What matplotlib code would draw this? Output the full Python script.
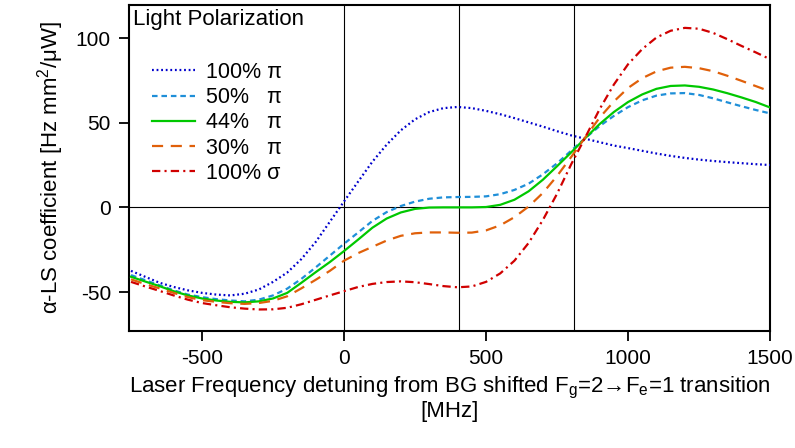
import numpy as np
import matplotlib
matplotlib.use('Agg')
import matplotlib.pyplot as plt

plt.rcParams['font.family'] = ['Liberation Sans', 'DejaVu Sans']
plt.rcParams['axes.unicode_minus'] = False
plt.rcParams['lines.scale_dashes'] = False
plt.rcParams['mathtext.fontset'] = 'custom'
plt.rcParams['mathtext.rm'] = 'Liberation Sans'

# detuning [MHz]
detuning = np.arange(-750, 1501, 50)

# alpha-LS coefficient [Hz mm^2/uW]
pi_100 = [-37.5, -41, -44.5, -47, -49, -50.5, -51.5, -52, -51, -48.5,
          -44, -38.5, -30.5, -20.5, -8.5, 3.5, 15.3, 27, 37, 45.5,
          52, 56.3, 58.6, 59.3, 58.6, 57, 55, 52.7, 50.2, 47.7,
          45, 42.5, 40.5, 38.5, 36.5, 35, 33.4, 31.8, 30.4, 29.2,
          28.2, 27.4, 26.7, 26.1, 25.5, 25]
pi_50 = [-40, -43, -46, -49, -51.5, -53, -54.2, -55, -55.5, -54.5,
         -52, -48, -42.2, -35.5, -28.5, -21.5, -14.8, -8, -2.8, 0.8,
         3.4, 5.1, 5.9, 6.1, 6.2, 6.5, 7.8, 10.3, 14, 19.5,
         26, 33.5, 41, 48, 54, 59.2, 63.2, 66, 67.3, 67.5,
         66.4, 64.4, 62, 59.7, 57.5, 55.5]
pi_44 = [-41, -43.8, -46.5, -49.5, -52, -53.8, -55, -55.8, -56.1, -55.5,
         -53.8, -50.5, -44.5, -38.3, -32.3, -25.8, -19, -12, -6.6, -3,
         -0.9, -0.1, 0, 0, 0, 0.2, 1.5, 4.5, 9.5, 16.3,
         24.3, 32.5, 41, 49.2, 56.3, 62.2, 66.7, 70, 71.7, 72,
         71.2, 69.6, 67.4, 64.9, 62.2, 59]
pi_30 = [-42.5, -45.3, -47.8, -50.5, -53, -54.8, -55.8, -56.6, -57, -56.5,
         -55.2, -52.5, -47.8, -42.8, -37.5, -31.5, -27, -23.3, -19.6, -16.8,
         -15.3, -14.8, -14.8, -15, -14.9, -13.6, -10.6, -5.8, 0.5, 8.5,
         18.5, 29.8, 41.5, 53, 62.5, 70.5, 76.3, 80.3, 82.5, 83,
         82.2, 80.4, 77.7, 74.7, 71.6, 68.5]
sigma_100 = [-44, -46.7, -49.3, -52, -54.5, -56.5, -57.8, -59, -59.8, -60.3,
             -60.2, -59.3, -57.2, -54.6, -52, -49.5, -47, -45.2, -44.1, -43.7,
             -44.2, -45.3, -46.5, -47.2, -46.7, -44, -39, -31.5, -21, -7.5,
             8, 25.5, 41.5, 58, 72.5, 84.5, 93.5, 100.3, 104.3, 106,
             105.5, 103, 99.3, 95.3, 91.5, 87.5]

labels = ['100% π', '50%\u2007 π', '44%\u2007 π', '30%\u2007 π', '100% σ']
colors = ['#0000cc', '#1f8fd8', '#00c800', '#e0600a', '#d00000']
dashes = [(1.3, 2.0), (4, 2.8), (None, None), (8, 5.5), (6, 3, 1.5, 3)]

fig = plt.figure(figsize=(7.95, 4.48), dpi=100)
ax = fig.add_axes([0.1623, 0.2612, 0.8063, 0.7276])

ax.axhline(0, color='black', lw=0.8, zorder=1)
for xv in [0, 405, 810]:
    ax.axvline(xv, color='black', lw=0.8, zorder=1)

series = [pi_100, pi_50, pi_44, pi_30, sigma_100]
for y, lab, c, d in zip(series, labels, colors, dashes):
    if d[0] is None:
        ax.plot(detuning, y, color=c, lw=1.6, label=lab, zorder=3)
    else:
        ax.plot(detuning, y, color=c, lw=1.6, dashes=d, label=lab,
                dash_capstyle='butt', zorder=3)

ax.set_xlim(-757, 1500)
ax.set_ylim(-73, 119.5)
ax.set_xticks([-500, 0, 500, 1000, 1500])
ax.set_yticks([-50, 0, 50, 100])
ax.tick_params(direction='out', length=7, width=1.3, labelsize=15, pad=6)
for s in ax.spines.values():
    s.set_linewidth(1.5)

ax.set_xlabel('Laser Frequency detuning from BG shifted '
              r'F$_\mathregular{g}$=2→F$_\mathregular{e}$=1 transition' '\n[MHz]',
              fontsize=16, labelpad=5, linespacing=1.0)
ax.set_ylabel(r'α-LS coefficient [Hz mm$^\mathregular{2}$/μW]', fontsize=16, labelpad=7)

ax.text(0.006, 0.988, 'Light Polarization', transform=ax.transAxes,
        fontsize=16, va='top', ha='left')
ax.legend(loc='upper left', bbox_to_anchor=(0.036, 0.826), frameon=False,
          fontsize=15.5, borderpad=0, borderaxespad=0, handlelength=2.0,
          handletextpad=0.5, labelspacing=0.2)

fig.savefig('out.png', dpi=100)
